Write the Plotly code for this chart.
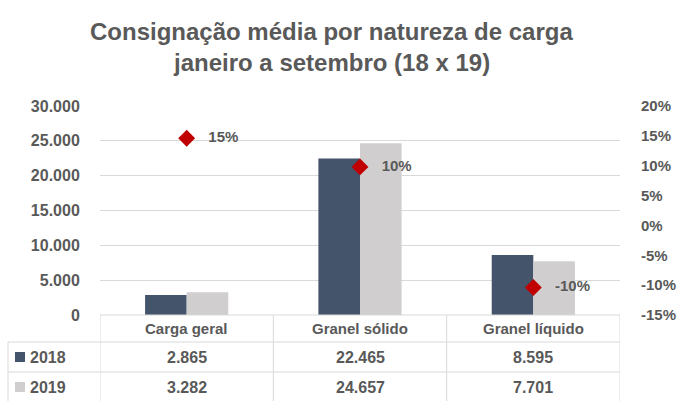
import plotly.graph_objects as go

categories = ["Carga geral", "Granel sólido", "Granel líquido"]
series_names = ["2018", "2019"]
values_2018 = [2865, 22465, 8595]
values_2019 = [3282, 24657, 7701]
variation_pct = [14.6, 9.8, -10.4]
variation_labels = ["15%", "10%", "-10%"]
left_tickvals = [0, 5000, 10000, 15000, 20000, 25000, 30000]
left_ticktext = ["0", "5.000", "10.000", "15.000", "20.000", "25.000", "30.000"]
right_tickvals = [-15, -10, -5, 0, 5, 10, 15, 20]
right_ticktext = ["-15%", "-10%", "-5%", "0%", "5%", "10%", "15%", "20%"]
title_lines = ["Consignação média por natureza de carga", "janeiro a setembro (18 x 19)"]

C2018 = "#44546A"
C2019 = "#D0CECE"
CRED = "#C00000"
TXT = "#595959"
GRID = "#D9D9D9"
FONT = "Liberation Sans, Arial, sans-serif"

W, H = 677, 401
L, R, T, B = 100, 57, 106, 86
PW, PH = W - L - R, H - T - B


def px(x):
    return (x - L) / PW


def py(y):
    return (H - B - y) / PH


def fmt(v):
    return f"{v:,}".replace(",", ".")


fig = go.Figure()
fig.add_trace(go.Bar(x=categories, y=values_2018, name=series_names[0],
                     marker=dict(color=C2018, line=dict(width=0))))
fig.add_trace(go.Bar(x=categories, y=values_2019, name=series_names[1],
                     marker=dict(color=C2019, line=dict(width=0))))
fig.add_trace(go.Scatter(x=categories, y=variation_pct, yaxis="y2", mode="markers+text",
                         marker=dict(symbol="diamond", size=13, color=CRED),
                         text=["   " + t for t in variation_labels],
                         textposition="middle right",
                         textfont=dict(family=FONT, size=15, color=TXT, weight="bold"),
                         cliponaxis=False))

shapes = []
line = dict(color=GRID, width=1)
shapes.append(dict(type="line", xref="paper", yref="paper", x0=0, x1=1, y0=py(315), y1=py(315), line=line))
for yy in [342, 372]:
    shapes.append(dict(type="line", xref="paper", yref="paper", x0=px(8), x1=1, y0=py(yy), y1=py(yy), line=line))
for i in range(len(categories) + 1):
    shapes.append(dict(type="line", xref="x", yref="paper", x0=i - 0.5, x1=i - 0.5,
                       y0=py(315), y1=py(405), line=line))
shapes.append(dict(type="line", xref="paper", yref="paper", x0=px(8), x1=px(8),
                   y0=py(342), y1=py(405), line=line))
for yy, col in [(352, C2018), (382, C2019)]:
    shapes.append(dict(type="rect", xref="paper", yref="paper", x0=px(15), x1=px(25),
                       y0=py(yy + 10), y1=py(yy), line=dict(width=0), fillcolor=col))

ann = []
cfont = dict(family=FONT, size=15, color=TXT, weight="bold")
nfont = dict(family=FONT, size=16, color=TXT, weight="bold")
for i, c in enumerate(categories):
    ann.append(dict(x=c, xref="x", y=py(328), yref="paper", text=c, showarrow=False,
                    font=cfont, xanchor="center", yanchor="middle"))
    ann.append(dict(x=c, xref="x", y=py(357), yref="paper", text=fmt(values_2018[i]), showarrow=False,
                    font=nfont, xanchor="center", yanchor="middle"))
    ann.append(dict(x=c, xref="x", y=py(387), yref="paper", text=fmt(values_2019[i]), showarrow=False,
                    font=nfont, xanchor="center", yanchor="middle"))
for yy, name in [(357, series_names[0]), (387, series_names[1])]:
    ann.append(dict(x=px(28), xref="paper", y=py(yy), yref="paper", text=name, showarrow=False,
                    font=nfont, xanchor="left", yanchor="middle"))
for yy, t in [(31, title_lines[0]), (63, title_lines[1])]:
    ann.append(dict(x=px(331), xref="paper", y=py(yy), yref="paper", text=t,
                    showarrow=False, xanchor="center", yanchor="middle",
                    font=dict(family=FONT, size=24, color=TXT, weight="bold")))

fig.update_layout(
    width=W, height=H,
    margin=dict(l=L, r=R, t=T, b=B, autoexpand=False),
    paper_bgcolor="white", plot_bgcolor="white",
    barmode="group", bargap=0.52, bargroupgap=0,
    showlegend=False,
    font=dict(family=FONT, color=TXT),
    xaxis=dict(showticklabels=False, showgrid=False, zeroline=False, showline=False,
               ticks="", range=[-0.5, 2.5]),
    yaxis=dict(range=[0, 30000], tickvals=left_tickvals, ticktext=left_ticktext,
               showgrid=True, gridcolor=GRID, gridwidth=1, zeroline=False, showline=False,
               ticks="outside", ticklen=16, tickcolor="rgba(0,0,0,0)",
               tickfont=dict(family=FONT, size=16, color=TXT, weight="bold")),
    yaxis2=dict(range=[-15, 20], tickvals=right_tickvals, ticktext=right_ticktext,
                overlaying="y", side="right", showgrid=False, zeroline=False, showline=False,
                ticks="outside", ticklen=17, tickcolor="rgba(0,0,0,0)",
                tickfont=dict(family=FONT, size=15, color=TXT, weight="bold")),
    shapes=shapes, annotations=ann,
)

fig.write_html("out.html", config={"displayModeBar": False},
               post_script="document.body.style.margin='0';document.body.style.overflow='hidden';")
